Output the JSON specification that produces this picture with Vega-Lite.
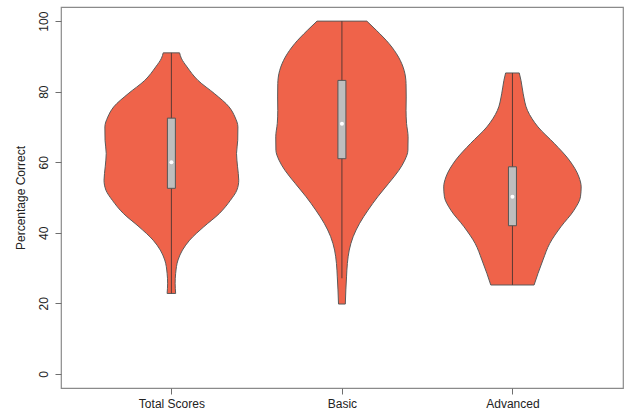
{
  "$schema": "https://vega.github.io/schema/vega-lite/v6.json",
  "width": 562,
  "height": 381,
  "autosize": {"type": "none"},
  "padding": {"left": 61, "top": 7, "right": 2, "bottom": 26},
  "background": "white",
  "config": {
    "font": "Liberation Sans",
    "view": {"stroke": "#8a8a8a", "strokeWidth": 1.2},
    "axis": {
      "grid": false,
      "domain": false,
      "tickColor": "#6e6e6e",
      "tickSize": 6,
      "labelFontSize": 12,
      "labelColor": "#222222",
      "titleFontSize": 12,
      "titleFontWeight": "normal",
      "titleColor": "#222222"
    }
  },
  "datasets": {
    "violins": [
      {"group": "Total Scores", "pos": 1, "score": 22.8, "w": 0.025},
      {"group": "Total Scores", "pos": 1, "score": 25.7, "w": 0.022},
      {"group": "Total Scores", "pos": 1, "score": 28.5, "w": 0.025},
      {"group": "Total Scores", "pos": 1, "score": 32.3, "w": 0.039},
      {"group": "Total Scores", "pos": 1, "score": 35.1, "w": 0.065},
      {"group": "Total Scores", "pos": 1, "score": 37.9, "w": 0.107},
      {"group": "Total Scores", "pos": 1, "score": 41.7, "w": 0.19},
      {"group": "Total Scores", "pos": 1, "score": 45.5, "w": 0.282},
      {"group": "Total Scores", "pos": 1, "score": 49.2, "w": 0.346},
      {"group": "Total Scores", "pos": 1, "score": 52.1, "w": 0.384},
      {"group": "Total Scores", "pos": 1, "score": 54.9, "w": 0.395},
      {"group": "Total Scores", "pos": 1, "score": 58.7, "w": 0.388},
      {"group": "Total Scores", "pos": 1, "score": 62.5, "w": 0.382},
      {"group": "Total Scores", "pos": 1, "score": 66.2, "w": 0.389},
      {"group": "Total Scores", "pos": 1, "score": 70.0, "w": 0.39},
      {"group": "Total Scores", "pos": 1, "score": 72.8, "w": 0.373},
      {"group": "Total Scores", "pos": 1, "score": 75.7, "w": 0.338},
      {"group": "Total Scores", "pos": 1, "score": 79.4, "w": 0.254},
      {"group": "Total Scores", "pos": 1, "score": 83.2, "w": 0.156},
      {"group": "Total Scores", "pos": 1, "score": 87.0, "w": 0.092},
      {"group": "Total Scores", "pos": 1, "score": 89.5, "w": 0.058},
      {"group": "Total Scores", "pos": 1, "score": 91.0, "w": 0.048},
      {"group": "Basic", "pos": 2, "score": 19.8, "w": 0.02},
      {"group": "Basic", "pos": 2, "score": 23.8, "w": 0.023},
      {"group": "Basic", "pos": 2, "score": 27.5, "w": 0.027},
      {"group": "Basic", "pos": 2, "score": 31.3, "w": 0.032},
      {"group": "Basic", "pos": 2, "score": 35.1, "w": 0.043},
      {"group": "Basic", "pos": 2, "score": 38.9, "w": 0.066},
      {"group": "Basic", "pos": 2, "score": 42.7, "w": 0.104},
      {"group": "Basic", "pos": 2, "score": 46.4, "w": 0.153},
      {"group": "Basic", "pos": 2, "score": 50.2, "w": 0.21},
      {"group": "Basic", "pos": 2, "score": 54.0, "w": 0.274},
      {"group": "Basic", "pos": 2, "score": 57.7, "w": 0.334},
      {"group": "Basic", "pos": 2, "score": 60.6, "w": 0.369},
      {"group": "Basic", "pos": 2, "score": 63.4, "w": 0.387},
      {"group": "Basic", "pos": 2, "score": 67.2, "w": 0.388},
      {"group": "Basic", "pos": 2, "score": 71.0, "w": 0.379},
      {"group": "Basic", "pos": 2, "score": 74.7, "w": 0.376},
      {"group": "Basic", "pos": 2, "score": 78.5, "w": 0.377},
      {"group": "Basic", "pos": 2, "score": 82.3, "w": 0.376},
      {"group": "Basic", "pos": 2, "score": 86.0, "w": 0.365},
      {"group": "Basic", "pos": 2, "score": 89.8, "w": 0.332},
      {"group": "Basic", "pos": 2, "score": 93.6, "w": 0.277},
      {"group": "Basic", "pos": 2, "score": 97.4, "w": 0.202},
      {"group": "Basic", "pos": 2, "score": 100.0, "w": 0.146},
      {"group": "Advanced", "pos": 3, "score": 25.2, "w": 0.127},
      {"group": "Advanced", "pos": 3, "score": 28.5, "w": 0.15},
      {"group": "Advanced", "pos": 3, "score": 32.3, "w": 0.179},
      {"group": "Advanced", "pos": 3, "score": 37.0, "w": 0.219},
      {"group": "Advanced", "pos": 3, "score": 41.7, "w": 0.284},
      {"group": "Advanced", "pos": 3, "score": 46.4, "w": 0.361},
      {"group": "Advanced", "pos": 3, "score": 50.2, "w": 0.399},
      {"group": "Advanced", "pos": 3, "score": 53.0, "w": 0.403},
      {"group": "Advanced", "pos": 3, "score": 55.8, "w": 0.39},
      {"group": "Advanced", "pos": 3, "score": 60.6, "w": 0.333},
      {"group": "Advanced", "pos": 3, "score": 65.3, "w": 0.246},
      {"group": "Advanced", "pos": 3, "score": 70.0, "w": 0.15},
      {"group": "Advanced", "pos": 3, "score": 74.7, "w": 0.088},
      {"group": "Advanced", "pos": 3, "score": 79.4, "w": 0.063},
      {"group": "Advanced", "pos": 3, "score": 83.2, "w": 0.05},
      {"group": "Advanced", "pos": 3, "score": 85.3, "w": 0.04}
    ],
    "boxes": [
      {"group": "Total Scores", "pos": 1, "whiskerLow": 22.8, "q1": 52.6, "median": 60.0, "q3": 72.5, "whiskerHigh": 91.0},
      {"group": "Basic", "pos": 2, "whiskerLow": 27.1, "q1": 61.0, "median": 70.9, "q3": 83.2, "whiskerHigh": 100.0},
      {"group": "Advanced", "pos": 3, "whiskerLow": 25.2, "q1": 42.0, "median": 50.2, "q3": 58.7, "whiskerHigh": 85.3}
    ]
  },
  "layer": [
    {
      "data": {"name": "violins"},
      "transform": [
        {"calculate": "datum.pos - datum.w", "as": "left"},
        {"calculate": "datum.pos + datum.w", "as": "right"}
      ],
      "mark": {
        "type": "area",
        "orient": "horizontal",
        "interpolate": "monotone",
        "fill": "#EF634A",
        "fillOpacity": 1,
        "stroke": "#5a5a5a",
        "strokeWidth": 1
      },
      "encoding": {
        "y": {
          "field": "score",
          "type": "quantitative",
          "scale": {"domain": [-4, 104], "nice": false, "zero": false},
          "axis": {
            "title": "Percentage Correct",
            "values": [0, 20, 40, 60, 80, 100],
            "labelAngle": -90,
            "labelAlign": "center",
            "labelBaseline": "alphabetic",
            "labelPadding": 8,
            "titlePadding": 10
          }
        },
        "x": {
          "field": "left",
          "type": "quantitative",
          "scale": {"domain": [0.382, 3.619], "nice": false, "zero": false},
          "axis": {
            "title": null,
            "values": [1, 2, 3],
            "labelExpr": "datum.value == 1 ? 'Total Scores' : datum.value == 2 ? 'Basic' : 'Advanced'",
            "labelPadding": 4,
            "labelFlush": false
          }
        },
        "x2": {"field": "right"},
        "detail": {"field": "group", "type": "nominal"}
      }
    },
    {
      "data": {"name": "boxes"},
      "mark": {"type": "rule", "color": "#5b3a34", "strokeWidth": 1},
      "encoding": {
        "x": {"field": "pos", "type": "quantitative"},
        "y": {"field": "whiskerLow", "type": "quantitative"},
        "y2": {"field": "whiskerHigh"}
      }
    },
    {
      "data": {"name": "boxes"},
      "mark": {"type": "bar", "size": 8, "fill": "#BEBEBE", "stroke": "#555555", "strokeWidth": 1},
      "encoding": {
        "x": {"field": "pos", "type": "quantitative"},
        "y": {"field": "q1", "type": "quantitative"},
        "y2": {"field": "q3"}
      }
    },
    {
      "data": {"name": "boxes"},
      "mark": {"type": "point", "filled": true, "color": "white", "size": 16, "opacity": 1},
      "encoding": {
        "x": {"field": "pos", "type": "quantitative"},
        "y": {"field": "median", "type": "quantitative"}
      }
    }
  ]
}
